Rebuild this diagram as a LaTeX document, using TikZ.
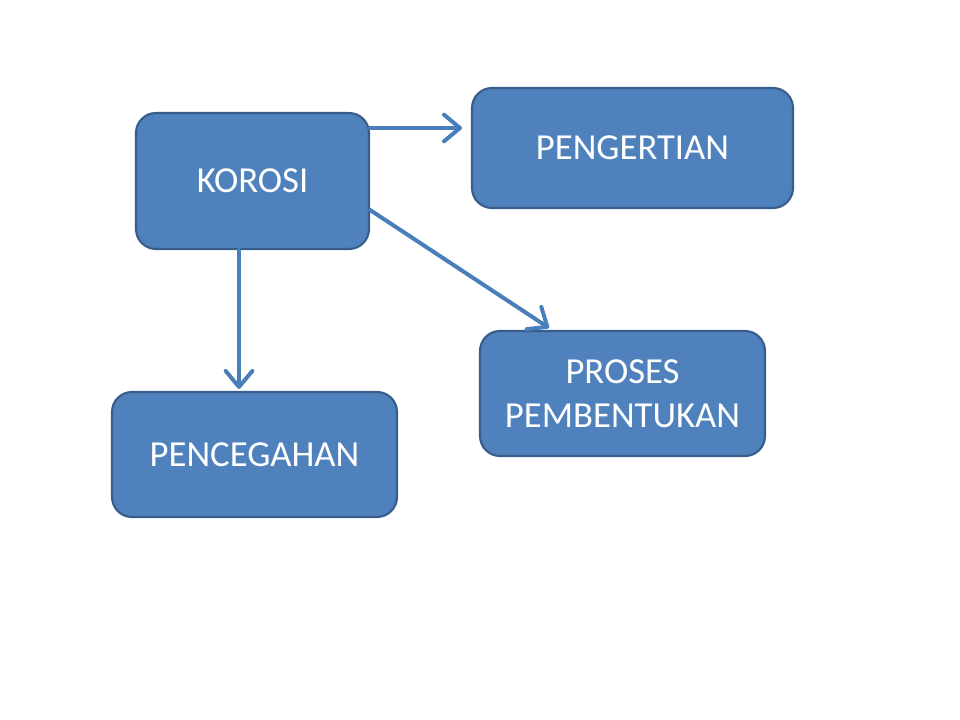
\documentclass[tikz,border=0pt]{standalone}
\usepackage{fontspec}
\setmainfont{Carlito}
\usetikzlibrary{arrows.meta}
\definecolor{boxfill}{HTML}{4F81BD}
\definecolor{boxedge}{HTML}{385D8A}
\definecolor{arrowcol}{HTML}{4A7EBB}
\begin{document}
\begin{tikzpicture}[x=0.75pt,y=-0.75pt,
  box/.style={draw=boxedge,fill=boxfill,line width=1.6pt,rounded corners=15pt,
    text=white,align=center,inner sep=0pt,
    font=\fontsize{27.5}{33}\selectfont},
  conn/.style={draw=arrowcol,line width=3pt,line cap=round,
    -{Straight Barb[length=12pt,width=20pt,line cap=round,line join=round]}}]
\useasboundingbox (0,0) rectangle (960,720);
\node[box,minimum width=233*0.75pt,minimum height=136*0.75pt] (korosi) at (252.5,181) {KOROSI};
\node[box,minimum width=321*0.75pt,minimum height=120*0.75pt] (pengertian) at (632.5,148) {PENGERTIAN};
\node[box,minimum width=285*0.75pt,minimum height=125*0.75pt] (proses) at (622.5,393.5) {PROSES\\PEMBENTUKAN};
\node[box,minimum width=285*0.75pt,minimum height=125*0.75pt] (pencegahan) at (254.5,454.5) {PENCEGAHAN};
\coordinate (y1) at (0,128);
\coordinate (y2) at (0,210);
\coordinate (x3) at (239,0);
\coordinate (x2) at (549,0);
\coordinate (e1) at (462,128);
\draw[conn] (korosi.east |- y1) -- (e1);
\draw[conn] (korosi.east |- y2) -- ([yshift=1.5pt]proses.north -| x2);
\draw[conn] (korosi.south -| x3) -- ([yshift=1.5pt]pencegahan.north -| x3);
\end{tikzpicture}
\end{document}
